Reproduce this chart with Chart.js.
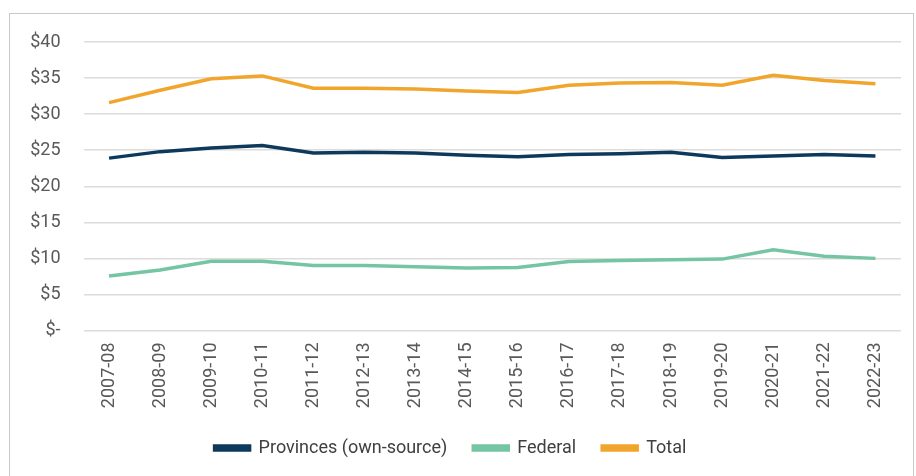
<!DOCTYPE html>
<html lang="en">
<head>
    <meta charset="UTF-8">
    <title>Per capita revenue</title>
    <style>
        body { margin: 0; background: #fff; }
        #frame { position: absolute; left: 9px; top: 13px; width: 903px; height: 480px; border: 1px solid #c8c8c8; }
        #wrap { position: absolute; left: 0; top: 0; width: 916px; height: 476px; }
    </style>
</head>
<body>

<div id="frame"></div>
<div id="wrap">
    <canvas id="myChart" width="916" height="476"></canvas>
</div>

<script src="https://cdn.jsdelivr.net/npm/chart.js"></script>

<script>
    const ctx = document.getElementById('myChart');

    const years = ['2007-08', '2008-09', '2009-10', '2010-11', '2011-12', '2012-13', '2013-14', '2014-15',
        '2015-16', '2016-17', '2017-18', '2018-19', '2019-20', '2020-21', '2021-22', '2022-23'];

    const provinces = [23.9, 24.8, 25.3, 25.65, 24.6, 24.7, 24.6, 24.3, 24.1, 24.4, 24.5, 24.7, 24.0, 24.2, 24.4, 24.2];
    const federal = [7.55, 8.4, 9.6, 9.6, 9.0, 9.0, 8.85, 8.65, 8.75, 9.55, 9.7, 9.8, 9.9, 11.2, 10.3, 10.0];
    const total = [31.6, 33.3, 34.9, 35.3, 33.6, 33.6, 33.5, 33.2, 33.0, 34.0, 34.3, 34.4, 34.0, 35.4, 34.65, 34.2];

    const yTicks = [0, 5, 10, 15, 20, 25, 30, 35, 40];

    const font = 'Roboto';

    const config = {
        type: 'line',
        data: {
            labels: years,
            datasets: [
                {
                    label: 'Provinces (own-source)',
                    data: provinces,
                    borderColor: '#0d3a5c',
                    backgroundColor: '#0d3a5c'
                },
                {
                    label: 'Federal',
                    data: federal,
                    borderColor: '#74c5a3',
                    backgroundColor: '#74c5a3'
                },
                {
                    label: 'Total',
                    data: total,
                    borderColor: '#f2a52c',
                    backgroundColor: '#f2a52c'
                }
            ]
        },
        options: {
            responsive: false,
            animation: false,
            layout: {
                padding: {left: 0, right: 15, top: 42, bottom: 9}
            },
            elements: {
                line: {borderWidth: 3.5, tension: 0},
                point: {radius: 0}
            },
            scales: {
                x: {
                    offset: true,
                    grid: {display: false, drawTicks: false},
                    border: {display: false},
                    ticks: {
                        minRotation: 90,
                        maxRotation: 90,
                        padding: 12,
                        color: '#595959',
                        font: {family: font, size: 18}
                    },
                    afterFit(scale) { scale.height = 82.5; }
                },
                y: {
                    min: 0,
                    max: 40,
                    afterBuildTicks(scale) { scale.ticks = yTicks.map(v => ({value: v})); },
                    grid: {color: '#dcdcdc', lineWidth: 1.5, drawTicks: false},
                    border: {display: false},
                    ticks: {
                        padding: 23,
                        color: '#595959',
                        font: {family: font, size: 18},
                        callback: v => v === 0 ? '$-' : '$' + v
                    },
                    afterFit(scale) { scale.width = 83.5; }
                }
            },
            plugins: {
                legend: {
                    position: 'bottom',
                    labels: {
                        boxWidth: 35,
                        boxHeight: 4,
                        padding: 26,
                        color: '#404040',
                        font: {family: font, size: 18}
                    }
                },
                tooltip: {enabled: false}
            }
        }
    };
    new Chart(ctx, config);
</script>

</body>
</html>
